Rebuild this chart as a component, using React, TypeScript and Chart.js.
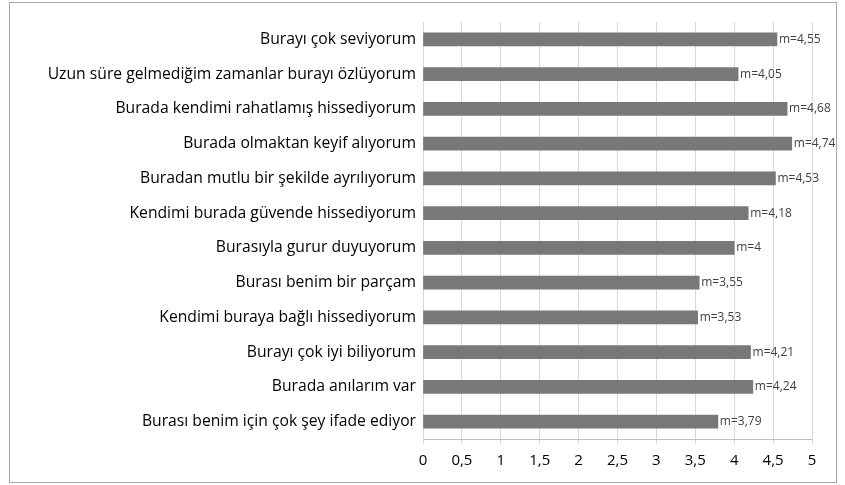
import React, { useEffect, useRef } from "react";
import { Chart, registerables } from "chart.js";

Chart.register(...registerables);

const categories: string[] = [
  "Burayı çok seviyorum",
  "Uzun süre gelmediğim zamanlar burayı özlüyorum",
  "Burada kendimi rahatlamış hissediyorum",
  "Burada olmaktan keyif alıyorum",
  "Buradan mutlu bir şekilde ayrılıyorum",
  "Kendimi burada güvende hissediyorum",
  "Burasıyla gurur duyuyorum",
  "Burası benim bir parçam",
  "Kendimi buraya bağlı hissediyorum",
  "Burayı çok iyi biliyorum",
  "Burada anılarım var",
  "Burası benim için çok şey ifade ediyor",
];

const means: number[] = [4.55, 4.05, 4.68, 4.74, 4.53, 4.18, 4, 3.55, 3.53, 4.21, 4.24, 3.79];

const xMin = 0;
const xMax = 5;
const xStep = 0.5;

const FONT = "'Open Sans', sans-serif";

const fmt = (v: number) => String(v).replace(".", ",");

const valueLabels = {
  id: "valueLabels",
  afterDatasetsDraw(chart: any) {
    const { ctx } = chart;
    const meta = chart.getDatasetMeta(0);
    ctx.save();
    ctx.font = `12px ${FONT}`;
    ctx.fillStyle = "#404040";
    ctx.textAlign = "left";
    ctx.textBaseline = "middle";
    meta.data.forEach((bar: any, i: number) => {
      ctx.fillText("m=" + fmt(means[i]), bar.x + 2, bar.y);
    });
    ctx.restore();
  },
};

export default function App() {
  const ref = useRef<HTMLCanvasElement | null>(null);

  useEffect(() => {
    document.body.style.margin = "0";
    if (!ref.current) return;
    const chart = new Chart(ref.current, {
      type: "bar",
      data: {
        labels: categories,
        datasets: [
          {
            data: means,
            backgroundColor: "#787878",
            borderWidth: 0,
            barThickness: 13,
          },
        ],
      },
      options: {
        indexAxis: "y",
        animation: false,
        responsive: false,
        devicePixelRatio: 1,
        layout: { padding: { top: 22, right: 33, bottom: 0, left: 0 } },
        plugins: {
          legend: { display: false },
          tooltip: { enabled: false },
        },
        scales: {
          x: {
            min: xMin,
            max: xMax,
            grid: {
              color: "#d9d9d9",
              lineWidth: 1,
              drawTicks: true,
              tickLength: 5,
              tickColor: "#d9d9d9",
            },
            border: { color: "#bfbfbf" },
            ticks: {
              stepSize: xStep,
              padding: 8,
              color: "#000000",
              font: { family: FONT, size: 15 },
              callback: (v: any) => fmt(Number(v)),
            },
            afterFit: (scale: any) => {
              scale.height = 46;
            },
          },
          y: {
            grid: { display: false, drawTicks: false },
            border: { color: "#d9d9d9" },
            ticks: {
              padding: 7,
              color: "#000000",
              font: { family: FONT, size: 15.7 },
              autoSkip: false,
            },
            afterFit: (scale: any) => {
              scale.width = 423;
            },
          },
        },
      },
      plugins: [valueLabels],
    });
    return () => chart.destroy();
  }, []);

  return (
    <div style={{ position: "relative", width: 845, height: 485 }}>
      <canvas ref={ref} width={845} height={485} style={{ position: "absolute", left: 0, top: 0 }} />
      <div
        style={{
          position: "absolute",
          left: 9,
          top: 2,
          width: 826,
          height: 479,
          border: "1px solid #a6a6a6",
          pointerEvents: "none",
        }}
      />
    </div>
  );
}
